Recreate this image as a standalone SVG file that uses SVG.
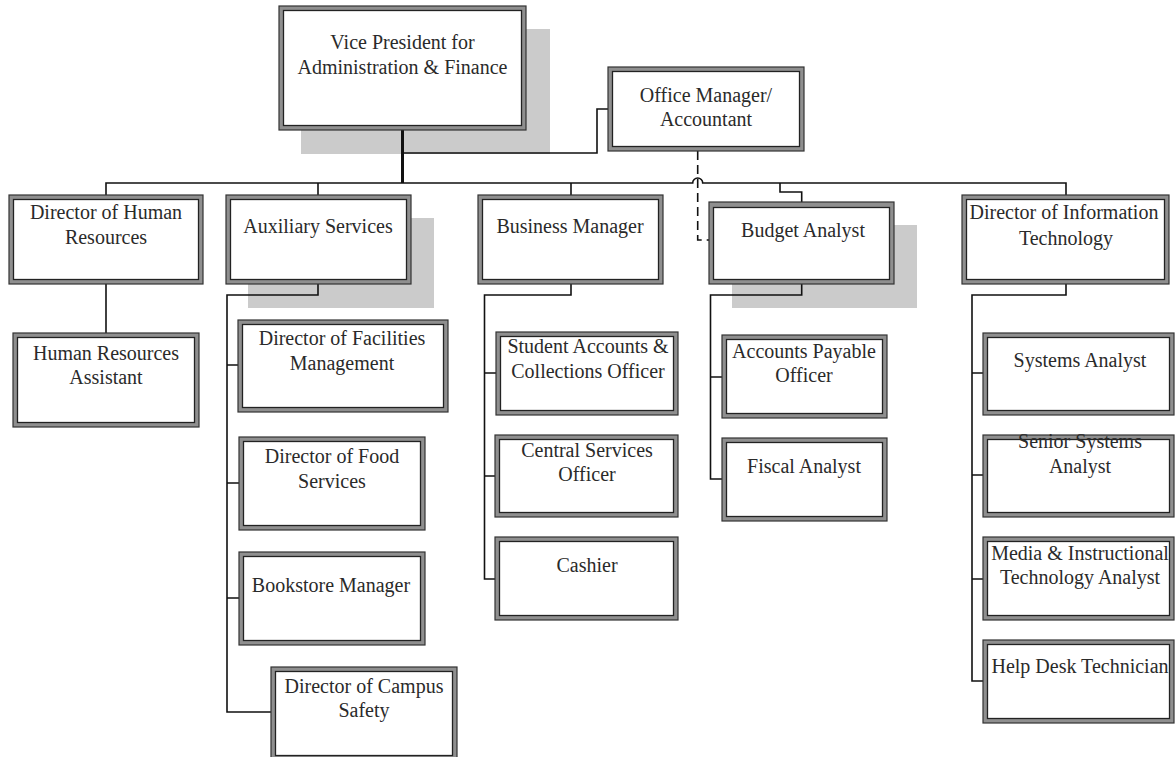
<svg xmlns="http://www.w3.org/2000/svg" width="1175" height="757" viewBox="0 0 1175 757">
<style>
.o{fill:#8f8f8f;stroke:#333;stroke-width:1.2}
.i{fill:#fff;stroke:#222;stroke-width:1.3}
.sh{fill:#cbcbcb}
.t{font-family:"Liberation Serif","Times New Roman",serif;font-size:20px;fill:#2a2a2a;text-anchor:middle}
.c{fill:none;stroke:#111;stroke-width:1.6}
.d{fill:none;stroke:#111;stroke-width:1.6;stroke-dasharray:9 5}
</style>
<rect width="1175" height="757" fill="#fff"/>
<g id="shadows">
<rect class="sh" x="301" y="29" width="249" height="125"/>
<rect class="sh" x="248" y="218" width="186" height="90"/>
<rect class="sh" x="732" y="225" width="185" height="83"/>
</g>
<g id="connectors">
<path d="M402.5,130 V183" fill="none" stroke="#111" stroke-width="3"/>
<path class="c" d="M402.5,153 H597 V109 H608"/>
<path class="c" d="M106,195 V183 H692.7 A5,5 0 0 1 702.7,183 H1066 V195"/>
<path class="c" d="M318,183 V195 M571,183 V195 M780,183 V192 H801.7 V202"/>
<path class="c" d="M106,284 V333"/>
<path class="c" d="M318,284 V295 H227 V712 H271 M227,365 H238 M227,483 H239 M227,598 H239"/>
<path class="c" d="M571,284 V295 H484.5 V579 H495 M484.5,373 H496 M484.5,476 H495"/>
<path class="c" d="M801.7,284 V295 H710.5 V479 H722 M710.5,377 H722"/>
<path class="c" d="M1066,284 V295 H972 V681 H983 M972,373 H983 M972,475 H983 M972,579 H983"/>
<path class="d" d="M697.7,151 V240 H709"/>
<path d="M628,149.5 H692" fill="none" stroke="#555" stroke-width="3" stroke-dasharray="10 5"/>
</g>
<g id="vp"><rect class="o" x="279" y="6" width="247" height="124"/><rect class="i" x="283.5" y="10.5" width="238" height="115"/>
<text class="t" x="402.5" y="49">Vice President for</text><text class="t" x="402.5" y="74">Administration &amp; Finance</text></g>
<g id="office"><rect class="o" x="608" y="67" width="196" height="84"/><rect class="i" x="612.5" y="71.5" width="187" height="75"/>
<text class="t" x="706" y="102">Office Manager/</text><text class="t" x="706" y="126">Accountant</text></g>
<g id="dirhr"><rect class="o" x="9" y="195" width="194" height="89"/><rect class="i" x="13.5" y="199.5" width="185" height="80"/>
<text class="t" x="106" y="219">Director of Human</text><text class="t" x="106" y="244">Resources</text></g>
<g id="aux"><rect class="o" x="226" y="195" width="185" height="89"/><rect class="i" x="230.5" y="199.5" width="176" height="80"/>
<text class="t" x="318" y="233">Auxiliary Services</text></g>
<g id="bm"><rect class="o" x="478" y="195" width="185" height="89"/><rect class="i" x="482.5" y="199.5" width="176" height="80"/>
<text class="t" x="570" y="233">Business Manager</text></g>
<g id="budget"><rect class="o" x="709" y="202" width="185" height="82"/><rect class="i" x="713.5" y="207.5" width="176" height="72"/>
<text class="t" x="803" y="237">Budget Analyst</text></g>
<g id="dirit"><rect class="o" x="962" y="195" width="207" height="89"/><rect class="i" x="966.5" y="199.5" width="198" height="80"/>
<text class="t" x="1064" y="219">Director of Information</text><text class="t" x="1066" y="245">Technology</text></g>
<g id="hra"><rect class="o" x="13" y="333" width="186" height="94"/><rect class="i" x="17.5" y="337.5" width="177" height="85"/>
<text class="t" x="106" y="360">Human Resources</text><text class="t" x="106" y="384">Assistant</text></g>
<g id="facilities"><rect class="o" x="238" y="320" width="210" height="92"/><rect class="i" x="242.5" y="324.5" width="201" height="83"/>
<text class="t" x="342" y="345">Director of Facilities</text><text class="t" x="342" y="370">Management</text></g>
<g id="food"><rect class="o" x="239" y="437" width="186" height="93"/><rect class="i" x="243.5" y="441.5" width="177" height="84"/>
<text class="t" x="332" y="463">Director of Food</text><text class="t" x="332" y="488">Services</text></g>
<g id="bookstore"><rect class="o" x="239" y="552" width="186" height="93"/><rect class="i" x="243.5" y="556.5" width="177" height="84"/>
<text class="t" x="331" y="592">Bookstore Manager</text></g>
<g id="campus"><rect class="o" x="271" y="667" width="186" height="93"/><rect class="i" x="275.5" y="671.5" width="177" height="84"/>
<text class="t" x="364" y="693">Director of Campus</text><text class="t" x="364" y="717">Safety</text></g>
<g id="student"><rect class="o" x="496" y="332" width="182" height="83"/><rect class="i" x="500.5" y="336.5" width="173" height="74"/>
<text class="t" x="588" y="353">Student Accounts &amp;</text><text class="t" x="588" y="378">Collections Officer</text></g>
<g id="central"><rect class="o" x="495" y="435" width="183" height="82"/><rect class="i" x="499.5" y="439.5" width="174" height="73"/>
<text class="t" x="587" y="457">Central Services</text><text class="t" x="587" y="481">Officer</text></g>
<g id="cashier"><rect class="o" x="495" y="537" width="183" height="83"/><rect class="i" x="499.5" y="541.5" width="174" height="74"/>
<text class="t" x="587" y="572">Cashier</text></g>
<g id="ap"><rect class="o" x="722" y="335" width="165" height="83"/><rect class="i" x="726.5" y="339.5" width="156" height="74"/>
<text class="t" x="804" y="358">Accounts Payable</text><text class="t" x="804" y="382">Officer</text></g>
<g id="fiscal"><rect class="o" x="722" y="438" width="165" height="83"/><rect class="i" x="726.5" y="442.5" width="156" height="74"/>
<text class="t" x="804" y="473">Fiscal Analyst</text></g>
<g id="systems"><rect class="o" x="983" y="333" width="191" height="82"/><rect class="i" x="987.5" y="337.5" width="182" height="73"/>
<text class="t" x="1080" y="367">Systems Analyst</text></g>
<g id="senior"><rect class="o" x="983" y="435" width="191" height="82"/><rect class="i" x="987.5" y="439.5" width="182" height="73"/>
<text class="t" x="1080" y="448">Senior Systems</text><text class="t" x="1080" y="473">Analyst</text></g>
<g id="media"><rect class="o" x="983" y="537" width="191" height="83"/><rect class="i" x="987.5" y="541.5" width="182" height="74"/>
<text class="t" x="1080" y="560">Media &amp; Instructional</text><text class="t" x="1080" y="584">Technology Analyst</text></g>
<g id="helpdesk"><rect class="o" x="983" y="640" width="191" height="83"/><rect class="i" x="987.5" y="644.5" width="182" height="74"/>
<text class="t" x="1080" y="673">Help Desk Technician</text></g>
</svg>
